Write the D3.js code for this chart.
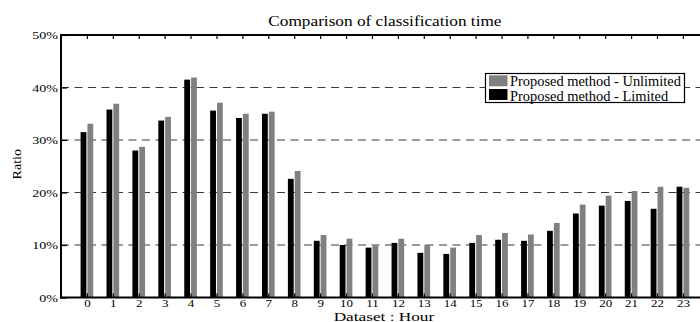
<!DOCTYPE html>
<html>
<head>
<meta charset="utf-8">
<script src="https://cdn.jsdelivr.net/npm/d3@7"></script>
<style>
  html, body { margin: 0; padding: 0; background: #fff; }
  svg { display: block; }
  text { font-family: "Liberation Serif", "Times New Roman", serif; fill: #000; }
</style>
</head>
<body>
<div id="chart"></div>
<script>
const hours = [0,1,2,3,4,5,6,7,8,9,10,11,12,13,14,15,16,17,18,19,20,21,22,23];
const limited = [31.5,35.8,28.0,33.7,41.5,35.6,34.2,35.0,22.6,10.8,10.0,9.5,10.4,8.5,8.3,10.4,11.0,10.8,12.7,16.0,17.5,18.4,16.9,21.1];
const unlimited = [33.1,36.9,28.7,34.4,41.9,37.1,35.0,35.4,24.1,11.9,11.2,9.9,11.2,10.0,9.5,11.9,12.3,12.0,14.2,17.7,19.4,20.3,21.1,20.9];
const yTicks = [0,10,20,30,40,50];
const gridTicks = [10,20,30,40];
const seriesNames = ["Proposed method - Unlimited", "Proposed method - Limited"];
const seriesColors = {unlimited: "#808080", limited: "#000000"};
const title = "Comparison of classification time";
const xLabel = "Dataset : Hour";
const yLabel = "Ratio";

(function () {
const W = 700, H = 322;
const mLeft = 61, mTop = 35, mBottom = 297.5, unit = 25.913;
const FONT = "'Liberation Serif', 'Times New Roman', serif";
const svg = d3.select("#chart").append("svg").attr("width", W).attr("height", H);

const x = d3.scaleLinear().domain([-1, 24]).range([mLeft, mLeft + 25 * unit]);
const y = d3.scaleLinear().domain([0, 50]).range([mBottom, mTop]);

// grid
svg.append("g").selectAll("line").data(gridTicks).join("line")
  .attr("x1", mLeft).attr("x2", W)
  .attr("y1", d => y(d)).attr("y2", d => y(d))
  .attr("stroke", "#3a3a3a").attr("stroke-width", 1.2)
  .attr("stroke-dasharray", "8,5.5");

// bars
const u = x(1) - x(0);
const bw = u * 0.224, gap = u * 0.02;
svg.append("g").selectAll("rect").data(hours).join("rect")
  .attr("x", d => x(d) - gap - bw)
  .attr("width", bw)
  .attr("y", (d, i) => y(limited[i]))
  .attr("height", (d, i) => y(0) - y(limited[i]))
  .attr("fill", seriesColors.limited);
svg.append("g").selectAll("rect").data(hours).join("rect")
  .attr("x", d => x(d) + gap)
  .attr("width", bw)
  .attr("y", (d, i) => y(unlimited[i]))
  .attr("height", (d, i) => y(0) - y(unlimited[i]))
  .attr("fill", seriesColors.unlimited);

// axes
const yAxis = d3.axisLeft(y).tickValues(yTicks).tickFormat(d => d + "%")
  .tickSizeInner(-6).tickSizeOuter(0).tickPadding(2.3);
const gy = svg.append("g").attr("transform", `translate(${mLeft},0)`).call(yAxis)
  .attr("font-family", FONT);
gy.select(".domain").remove();
gy.selectAll("line").attr("stroke", "#000").attr("stroke-width", 1.2);
gy.selectAll("text").attr("font-size", 11).attr("transform", "scale(1.28,1)");

const xAxisB = d3.axisBottom(x).tickValues(hours).tickFormat(d => d)
  .tickSizeInner(-4).tickSizeOuter(0).tickPadding(2.2);
const gxb = svg.append("g").attr("transform", `translate(0,${mBottom})`).call(xAxisB)
  .attr("font-family", FONT);
gxb.select(".domain").remove();
gxb.selectAll("line").attr("stroke", "#000").attr("stroke-width", 1.2);
gxb.selectAll("text").attr("font-size", 10).attr("transform", "scale(1.3,1)");

const xAxisT = d3.axisTop(x).tickValues(hours).tickFormat("")
  .tickSizeInner(-4).tickSizeOuter(0);
const gxt = svg.append("g").attr("transform", `translate(0,${mTop})`).call(xAxisT);
gxt.select(".domain").remove();
gxt.selectAll("line").attr("stroke", "#000").attr("stroke-width", 1.2);

// frame
const frame = svg.append("g").attr("stroke", "#000").attr("stroke-width", 2);
frame.append("line").attr("x1", mLeft).attr("x2", mLeft).attr("y1", mTop - 1).attr("y2", mBottom + 1);
frame.append("line").attr("x1", mLeft - 1).attr("x2", W).attr("y1", mTop).attr("y2", mTop);
frame.append("line").attr("x1", mLeft - 1).attr("x2", W).attr("y1", mBottom).attr("y2", mBottom);

// title and labels
const cx = (x(-1) + x(24)) / 2;
svg.append("text").attr("transform", `translate(${cx},25.7) scale(1.19,1)`)
  .attr("text-anchor", "middle").attr("font-size", 14.5).text(title);
svg.append("text").attr("transform", `translate(${cx - 1},320.6) scale(1.38,1)`)
  .attr("text-anchor", "middle").attr("font-size", 12.5).text(xLabel);
svg.append("text").attr("transform", `translate(20.5,${(mTop + mBottom) / 2 - 2}) rotate(-90) scale(1.12,1)`)
  .attr("text-anchor", "middle").attr("font-size", 12.5).text(yLabel);

// legend
const lg = svg.append("g");
lg.append("rect").attr("x", 485.5).attr("y", 73.5).attr("width", 199).attr("height", 29)
  .attr("fill", "#fff").attr("stroke", "#000").attr("stroke-width", 1.2);
const legendItems = [
  {name: seriesNames[0], color: seriesColors.unlimited},
  {name: seriesNames[1], color: seriesColors.limited}
];
legendItems.forEach((it, i) => {
  lg.append("rect").attr("x", 489).attr("y", 75.3 + i * 13.7).attr("width", 18.5).attr("height", 11)
    .attr("fill", it.color);
  lg.append("text").attr("transform", `translate(510,${85.7 + i * 14.8}) scale(1.03,1)`)
    .attr("font-size", 14).text(it.name);
});
})();
</script>
</body>
</html>
